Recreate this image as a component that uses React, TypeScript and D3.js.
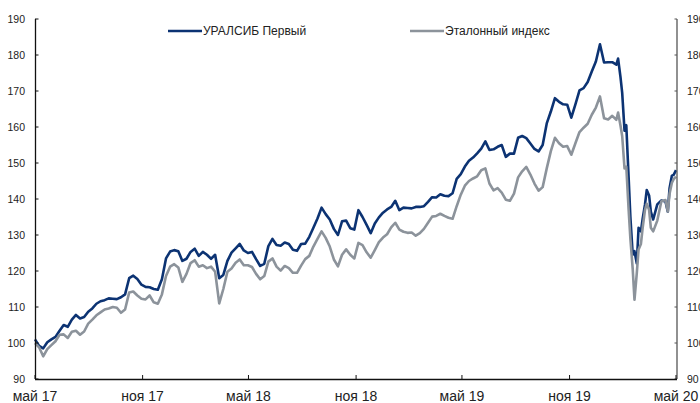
import React, { useEffect, useRef } from "react";
import * as d3 from "d3";

// 1 May 2017 .. 1 May 2020
const startDate = new Date(2017, 4, 1);
const endDate = new Date(2020, 4, 1);

// days since 1 May 2017
const days = [
  0, 7, 14, 21, 28, 35, 42, 49, 56, 63, 70, 77, 84, 91, 98, 105, 112, 119, 126, 133,
  140, 147, 154, 161, 168, 175, 182, 189, 196, 203, 210, 217, 224, 231, 238, 245, 252, 259, 266, 273,
  280, 287, 294, 301, 308, 315, 322, 329, 336, 343, 350, 357, 364, 371, 378, 385, 392, 399, 406, 413,
  420, 427, 434, 441, 448, 455, 462, 469, 476, 483, 490, 497, 504, 511, 518, 525, 532, 539, 546, 553,
  560, 567, 574, 581, 588, 595, 602, 609, 616, 623, 630, 637, 644, 651, 658, 665, 672, 679, 686, 693,
  700, 707, 714, 721, 728, 735, 742, 749, 756, 763, 770, 777, 784, 791, 798, 805, 812, 819, 826, 833,
  840, 847, 854, 861, 868, 875, 882, 889, 896, 903, 910, 917, 924, 931, 938, 945, 952, 959, 966, 973,
  980, 987, 994,
  997, 1001, 1004, 1008, 1011, 1015, 1018, 1022, 1025, 1029, 1032, 1036, 1039, 1043, 1046, 1050, 1053,
  1057, 1064, 1071, 1078, 1082, 1085, 1089, 1092, 1096,
];

const uralsib = [
  101, 99.2, 98.5, 100.2, 101.0, 101.7, 103.4, 105.0, 104.5, 106.5,
  107.8, 106.8, 107.2, 108.7, 109.6, 110.9, 111.6, 111.9, 112.4, 112.3,
  112.2, 112.7, 113.5, 118.0, 118.7, 117.8, 116.2, 115.6, 115.5, 115.0,
  114.8, 117.7, 123.5, 125.4, 125.8, 125.5, 122.8, 123.4, 125.3, 126.2,
  124.2, 125.3, 124.5, 123.4, 124.5, 118.0, 118.9, 122.8, 125.1, 126.3,
  127.5, 125.7, 125.0, 125.3, 123.3, 121.4, 122.0, 126.9, 128.9, 127.2,
  127.0, 127.9, 127.5, 125.9, 125.6, 127.5, 127.6, 129.5, 132.0, 134.6,
  137.6, 135.8, 134.3, 131.7, 130.0, 133.8, 134.0, 131.9, 131.5, 136.9,
  135.0, 132.8, 130.5, 133.2, 134.9, 136.2, 137.1, 137.8, 139.5, 136.9,
  137.6, 137.5, 137.4, 137.8, 137.8, 138.0, 139.2, 140.5, 140.4, 141.3,
  140.9, 140.8, 141.6, 145.6, 146.9, 149.0, 150.6, 151.5, 152.7, 154.0,
  156.0, 153.6, 153.8, 154.5, 155.0, 151.7, 152.6, 152.6, 157.0, 157.5,
  156.9, 155.4, 153.9, 153.2, 155.0, 161.0, 164.3, 168.0, 167.0, 166.3,
  166.2, 162.6, 166.3, 170.2, 170.8, 172.5, 175.4, 178.2, 183.0, 177.9,
  178.0, 178.0, 177.3,
  179.0, 174.0, 169.5, 159.0, 160.5, 146.0, 135.0, 124.5, 125.5, 122.1, 132.0, 131.0, 134.5,
  138.5, 142.5, 141.0, 136.5, 134.3, 138.5, 139.6, 139.3, 136.5, 143.0, 146.5, 146.7, 148.0,
];

const benchmark = [
  100, 98.8, 96.3, 98.3, 99.4, 100.5, 102.3, 102.4, 101.4, 103.1,
  103.4, 102.3, 103.2, 105.4, 106.5, 107.7, 108.5, 109.3, 109.6, 110.0,
  109.8, 108.4, 109.3, 114.0, 114.3, 113.2, 112.3, 112.1, 113.2, 111.3,
  110.9, 113.5, 118.6, 121.2, 121.9, 121.0, 117.0, 119.2, 122.2, 123.0,
  121.2, 121.6, 120.8, 121.2, 119.8, 111.0, 115.0, 119.8, 120.7, 122.3,
  123.2, 121.6, 121.6, 121.1, 119.2, 117.7, 118.6, 122.6, 123.5, 121.2,
  120.1, 121.4, 120.8, 119.5, 119.5, 121.5, 123.3, 124.2, 126.8, 128.9,
  131.0, 129.2, 126.8, 123.2, 121.3, 124.5, 126.0, 124.5, 123.5, 127.8,
  127.2, 125.2, 123.7, 125.8, 128.0, 129.3, 130.2, 132.1, 133.4, 131.5,
  130.9, 130.6, 130.7, 129.8, 130.5, 131.7, 133.4, 135.1, 135.3, 135.9,
  135.3, 134.8, 134.5, 138.0, 141.2, 143.7, 145.0, 145.7, 146.3, 148.0,
  148.5, 144.3, 142.4, 143.0, 141.8, 139.8, 139.5, 141.5, 146.0, 147.7,
  148.9, 146.8, 144.3, 142.3, 143.3, 148.5, 153.3, 157.0, 155.5, 154.5,
  154.7, 152.3, 155.5, 158.6, 159.8, 160.9, 163.4, 165.4, 168.5, 162.4,
  162.1, 163.1, 162.0,
  164.0, 160.5, 157.5, 148.5, 149.0, 137.0, 129.0, 120.5, 112.0, 119.5, 126.0, 127.5, 132.0,
  137.0, 138.7, 137.0, 132.0, 131.0, 134.0, 139.4, 139.7, 136.5, 141.5, 144.5, 145.5, 146.2,
];

const seriesNames = ["УРАЛСИБ Первый", "Эталонный индекс"];
const seriesColors = ["#0c3373", "#8c939b"];

const yTicks = [90, 100, 110, 120, 130, 140, 150, 160, 170, 180, 190];
const xTickDates = ["2017-05-01", "2017-11-01", "2018-05-01", "2018-11-01", "2019-05-01", "2019-11-01", "2020-05-01"];
const xTickLabels = ["май 17", "ноя 17", "май 18", "ноя 18", "май 19", "ноя 19", "май 20"];

const App = () => {
  const svgRef = useRef<SVGSVGElement>(null);

  useEffect(() => {
    const svg = d3.select(svgRef.current);
    svg.selectAll("*").remove();

    const width = 700;
    const height = 403;
    const left = 35;
    const right = 676;
    const top = 19;
    const bottom = 379;
    const font = "'Liberation Sans', Arial, sans-serif";

    svg.attr("width", width).attr("height", height);

    const x = d3.scaleTime().domain([startDate, endDate]).range([left, right]);
    const y = d3.scaleLinear().domain([90, 190]).range([bottom, top]);

    const dates = days.map((d) => d3.timeDay.offset(startDate, d));

    const line = d3
      .line<number>()
      .x((d, i) => x(dates[i]))
      .y((d) => y(d));

    // series, benchmark drawn on top
    [uralsib, benchmark].forEach((values, k) => {
      svg
        .append("path")
        .datum(values)
        .attr("d", line)
        .attr("fill", "none")
        .attr("stroke", seriesColors[k])
        .attr("stroke-width", 2.6)
        .attr("stroke-linejoin", "round");
    });

    // left axis
    const leftAxis = svg.append("g");
    leftAxis
      .append("line")
      .attr("x1", left + 0.5)
      .attr("x2", left + 0.5)
      .attr("y1", top)
      .attr("y2", bottom)
      .attr("stroke", "#111")
      .attr("stroke-width", 1.3);
    yTicks.forEach((t) => {
      leftAxis
        .append("line")
        .attr("x1", left)
        .attr("x2", left + 3.5)
        .attr("y1", y(t))
        .attr("y2", y(t))
        .attr("stroke", "#111");
      leftAxis
        .append("text")
        .attr("x", 25)
        .attr("y", y(t))
        .attr("dy", "0.35em")
        .attr("text-anchor", "end")
        .attr("font-family", font)
        .attr("font-size", 10.5)
        .attr("fill", "#222")
        .text(t);
    });

    // right axis
    const rightAxis = svg.append("g");
    rightAxis
      .append("line")
      .attr("x1", right + 1)
      .attr("x2", right + 1)
      .attr("y1", top)
      .attr("y2", bottom)
      .attr("stroke", "#555")
      .attr("stroke-width", 1.3);
    yTicks.forEach((t) => {
      rightAxis
        .append("line")
        .attr("x1", right - 1.5)
        .attr("x2", right + 1)
        .attr("y1", y(t))
        .attr("y2", y(t))
        .attr("stroke", "#555");
      rightAxis
        .append("text")
        .attr("x", 687)
        .attr("y", y(t))
        .attr("dy", "0.35em")
        .attr("font-family", font)
        .attr("font-size", 10.5)
        .attr("fill", "#222")
        .text(t);
    });

    // bottom axis
    const bottomAxis = svg.append("g");
    bottomAxis
      .append("line")
      .attr("x1", left)
      .attr("x2", right + 1)
      .attr("y1", bottom + 0.5)
      .attr("y2", bottom + 0.5)
      .attr("stroke", "#111")
      .attr("stroke-width", 1.3);
    xTickDates.forEach((d, i) => {
      const px = x(new Date(d + "T00:00:00"));
      bottomAxis
        .append("line")
        .attr("x1", px)
        .attr("x2", px)
        .attr("y1", bottom)
        .attr("y2", bottom - 4)
        .attr("stroke", "#111");
      bottomAxis
        .append("text")
        .attr("x", px)
        .attr("y", 401)
        .attr("text-anchor", "middle")
        .attr("font-family", font)
        .attr("font-size", 14)
        .attr("fill", "#222")
        .text(xTickLabels[i]);
    });

    // legend
    const legendX = [168, 410];
    seriesNames.forEach((name, k) => {
      svg
        .append("line")
        .attr("x1", legendX[k])
        .attr("x2", legendX[k] + 34)
        .attr("y1", 31)
        .attr("y2", 31)
        .attr("stroke", seriesColors[k])
        .attr("stroke-width", 2.6);
      svg
        .append("text")
        .attr("x", legendX[k] + 35)
        .attr("y", 31)
        .attr("dy", "0.35em")
        .attr("font-family", font)
        .attr("font-size", 12)
        .attr("fill", "#222")
        .text(name);
    });
  }, []);

  return (
    <div style={{ position: "absolute", left: 0, top: 0 }}>
      <svg ref={svgRef} />
    </div>
  );
};

export default App;
